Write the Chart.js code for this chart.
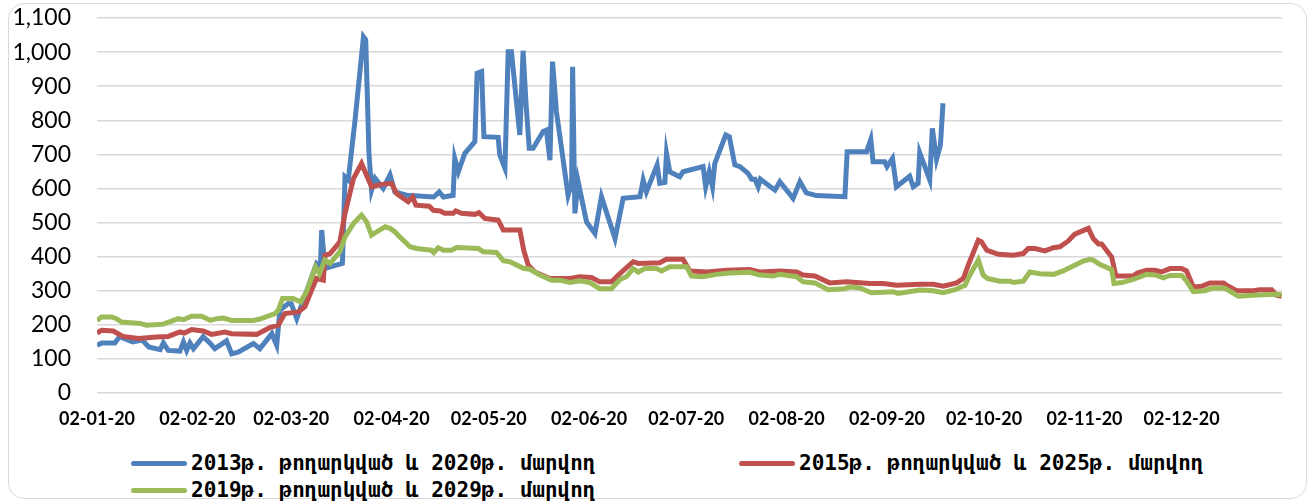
<!DOCTYPE html>
<html>
<head>
<meta charset="utf-8">
<script src="https://cdn.jsdelivr.net/npm/chart.js@4.4.1/dist/chart.umd.min.js"></script>
<style>
    body { margin: 0; background: #fff; }
    #wrap { position: relative; width: 1315px; height: 502px; overflow: hidden; }
    #frame { position: absolute; left: 8px; top: 3px; width: 1297px; height: 494px;
             border: 1.5px solid #d9d9d9; border-radius: 16px; }
    #box { position: absolute; left: 0; top: 0; width: 1315px; height: 440px; }
    .leg { position: absolute; display: flex; align-items: center; white-space: nowrap;
           font-family: "DejaVu Sans Mono", monospace; font-weight: bold; font-size: 21px; color: #000; }
    .leg span.line { display: inline-block; width: 56px; height: 5px; border-radius: 3px; margin-right: 4px; }
</style>
</head>
<body>
<div id="wrap">
    <div id="frame"></div>
    <div id="box"><canvas id="grafico"></canvas></div>
    <div id="legenda"></div>
</div>
<script>
// days counted from 02-01-20
const tickDays = [0, 31, 60, 91, 121, 152, 182, 213, 244, 274, 305, 335];
const tickLabels = ['02-01-20', '02-02-20', '02-03-20', '02-04-20', '02-05-20', '02-06-20',
                    '02-07-20', '02-08-20', '02-09-20', '02-10-20', '02-11-20', '02-12-20'];

const seriesNames = ['2013թ. թողարկված և 2020թ. մարվող',
                     '2015թ. թողարկված և 2025թ. մարվող',
                     '2019թ. թողարկված և 2029թ. մարվող'];
const cores = ['#4f81bd', '#c0504d', '#9bbb59'];

const blueDays = [0,1.5,5.5,7,11,14,16,19.5,20.5,22,25.6,26.7,27.7,28.7,29.8,32.8,35,36.4,40,41.6,43.6,48.3,50.3,54,55.5,56.5,59,60,61.7,63,67.8,69,69.4,70.4,72,75.8,76.6,77.6,79.7,82.3,83,84,84.8,85.9,88.4,90.5,92,95.6,104,105.7,107,110,110.5,111.6,113.6,116.7,117.4,118.8,119.5,123.9,124.4,126,127,128,130.6,131.6,132.5,133.5,134.7,137.8,138.8,139.9,140.7,141.9,145.5,146.6,146.9,147.6,148.6,151.2,153.8,155.8,160,162.5,167.7,168.7,169.7,173,173.8,175.4,175.9,176.9,180,181,183.1,187.2,188,189.1,190.1,190.8,194.2,195.3,197,198.6,201.1,202.2,203.2,204.2,204.9,209.4,210.9,215,217.1,219.1,222.2,231,231.7,237.7,239,239.7,243.3,244,245.7,246.9,251,252.1,253.6,254.1,257.2,258,259.3,260.5,261.3];
const blueValues = [140,147,147,165,150,155,135,127,147,125,123,150,125,147,130,165,145,130,153,115,120,145,130,174,140,243,262,262,218,253,380,370,478,365,370,380,634,625,800,1045,1036,703,595,630,600,640,590,580,575,590,575,580,688,649,703,737,938,943,752,750,698,659,1001,1001,757,1004,850,718,718,767,771,683,972,825,580,615,957,527,620,502,468,576,453,571,576,625,590,669,615,618,703,649,634,649,654,664,605,649,605,673,757,752,669,664,644,627,627,605,627,595,620,571,620,587,579,576,708,708,744,678,678,664,688,605,636,605,615,705,625,776,685,727,850];

const redDays = [0,1.4,5,8,12.8,18.4,22,25.6,27,29.2,32.8,35.4,39.5,41.6,49.3,53.4,56,58,62.2,64.2,66.3,67.8,69.9,70.4,72,75,76.6,79.2,81.7,84.8,87.9,91,92.5,96.1,97.5,98.5,102.6,103.9,106,107.4,110,110.8,112.6,116.7,118,119.8,123.9,125.5,130.6,131.8,133.2,135.2,139.9,146,149.1,152.7,155.3,158.9,161.5,165.6,167.2,173.8,175.9,181,183.1,188.3,194.4,201.6,204.7,210.9,216.1,218.1,221.7,226.3,231.5,238.7,242.8,246.9,254.2,258.3,261.4,265.5,267.6,269.1,272.2,273.2,274.8,278.4,283,286.1,287.6,289.7,292.8,295.4,297.4,300,302,306.2,307.7,309.3,310.3,313.4,314.7,320,321.3,324.2,326.8,328.8,331.4,335,336.5,338.6,341.2,343.7,347.9,349.4,352,357.1,359.2,362.8,364.3,365.9];
const redValues = [176,184,182,166,160,164,166,179,176,186,182,172,179,174,172,192,199,233,238,253,302,336,331,404,409,443,527,629,673,605,612,615,585,561,575,551,548,536,534,527,527,534,527,524,529,512,507,478,478,419,375,355,336,336,341,339,326,326,350,385,380,382,392,392,358,355,360,362,355,358,355,346,343,323,326,321,321,316,319,319,313,323,336,375,448,443,419,407,404,409,424,424,417,426,429,446,466,483,453,437,437,399,343,343,352,360,360,355,365,365,358,311,313,323,323,313,300,300,303,303,287,284];

const greenDays = [0,1.4,4.5,6,7.6,13.3,15.3,20.5,25.1,26.7,29.2,32.3,35,37,39,41.6,48.3,50.3,55,56,57.3,60.6,62.9,64.7,67.5,68.7,70.4,72,75,76.6,79.2,81.7,83.3,84.8,86.4,89,90.5,92,93.5,96.7,98.7,103.3,104,105.4,107,109.5,111.1,117.8,119.3,123.4,125.5,127.5,131.7,133.7,136.8,140.4,143,146,149.1,152.2,155.3,158.9,161.5,163.5,165.6,167.2,169.2,172.8,174.4,176.9,182.1,183.6,187.2,191.3,195.5,201.6,204.7,208.8,210.9,216.1,218.1,221.7,225.8,231,232.5,235.6,239.2,245.9,247.4,254.2,258.3,261.4,265,268.1,269.6,272.2,273.7,275,278.9,282,283,286.1,288.1,291.2,295.4,298.4,300.5,302,304.6,306.7,307.7,309.8,313.4,314.1,316.5,320,324.2,327.3,329.3,331.4,335,336.5,338.6,342.2,344.3,348.4,352.5,357.1,363.3,365.9];
const greenValues = [213,223,223,218,208,204,199,202,218,215,225,225,213,218,220,213,213,217,233,243,277,277,267,297,370,350,390,380,414,458,497,522,502,463,473,488,483,473,458,429,424,419,412,426,419,419,427,424,414,412,388,385,366,363,346,331,331,324,329,324,306,306,333,341,365,355,365,365,358,370,370,343,341,348,352,354,346,343,348,341,326,323,303,306,311,308,294,297,292,302,300,294,303,316,346,390,346,336,328,328,324,328,355,350,348,358,368,375,387,392,390,377,362,321,324,333,348,345,338,345,345,329,297,300,307,307,284,287,290,289];

document.addEventListener("DOMContentLoaded", function () {
    Chart.defaults.font.family = 'Lato';
    Chart.defaults.color = '#000';

    function pontos(days, values) {
        return days.map((d, i) => ({ x: d, y: values[i] }));
    }

    const dias = [blueDays, redDays, greenDays];
    const valores = [blueValues, redValues, greenValues];

    const datasets = seriesNames.map((nome, i) => ({
        label: nome,
        data: pontos(dias[i], valores[i]),
        borderColor: cores[i],
        backgroundColor: cores[i],
        borderWidth: 5,
        pointRadius: 0,
        tension: 0,
        fill: false,
        order: 3 - i  // verde por cima, como no Excel
    }));

    const ctx = document.getElementById('grafico').getContext('2d');
    new Chart(ctx, {
        type: 'line',
        data: { datasets },
        options: {
            responsive: true,
            maintainAspectRatio: false,
            animation: false,
            layout: { padding: { top: 18, right: 33, bottom: 0, left: 0 } },
            plugins: {
                legend: { display: false },
                tooltip: { enabled: false }
            },
            scales: {
                x: {
                    type: 'linear',
                    min: 0,
                    max: 366,
                    grid: { display: false, drawTicks: false },
                    border: { display: false },
                    afterBuildTicks: scale => { scale.ticks = tickDays.map(v => ({ value: v })); },
                    afterFit: scale => { scale.height = 47; },
                    ticks: {
                        autoSkip: false,
                        maxRotation: 0,
                        padding: 15,
                        font: { size: 18, weight: 'bold' },
                        callback: (value, index) => tickLabels[index]
                    }
                },
                y: {
                    min: 0,
                    max: 1100,
                    grid: { color: '#d9d9d9', lineWidth: 1.5, drawTicks: false },
                    border: { display: false },
                    afterFit: scale => {
                        scale.width = 97;
                        scale.paddingTop = 0;
                        scale.paddingBottom = 0;
                    },
                    ticks: {
                        stepSize: 100,
                        padding: 26,
                        font: { size: 23 }
                    }
                }
            }
        }
    });

    // legenda no estilo do Excel
    const posicoes = [[131, 463], [739, 463], [131, 490]];
    const container = document.getElementById('legenda');
    container.innerHTML = seriesNames.map((nome, i) => `
        <div class="leg" style="left:${posicoes[i][0]}px; top:${posicoes[i][1] - 13}px; height:26px;">
            <span class="line" style="background:${cores[i]}"></span><span>${nome}</span>
        </div>`).join('');
});
</script>
</body>
</html>
